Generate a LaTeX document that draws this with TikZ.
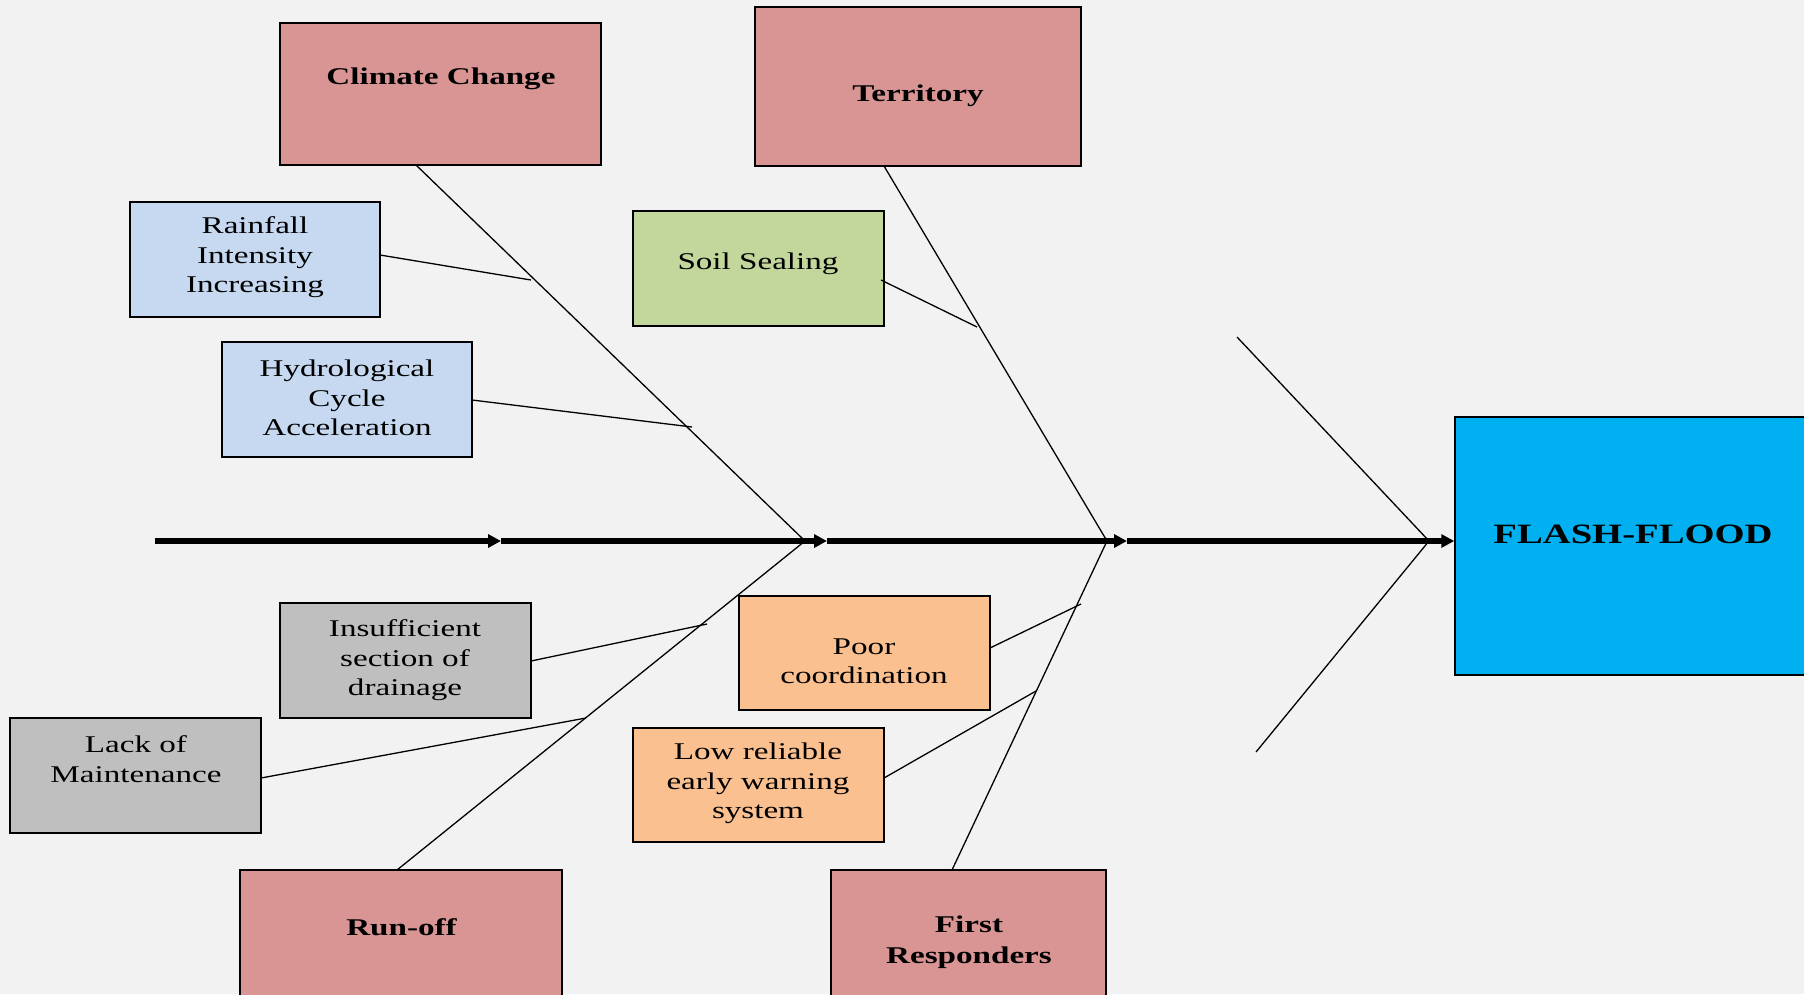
\documentclass[tikz,border=0pt]{standalone}
\usepackage{fontspec}
\setmainfont{Liberation Serif}[FakeStretch=1.38]
\usetikzlibrary{arrows.meta}
\definecolor{bg}{HTML}{F2F2F2}
\definecolor{causered}{HTML}{D99594}
\definecolor{subblue}{HTML}{C6D9F1}
\definecolor{subgreen}{HTML}{C3D69B}
\definecolor{subgrey}{HTML}{BFBFBF}
\definecolor{suborange}{HTML}{FAC090}
\definecolor{effectblue}{HTML}{00B0F0}
\tikzset{
  box/.style={draw=black, line width=1.5pt, inner sep=0pt, rectangle},
  mainbox/.style={box, fill=causered},
  bluebox/.style={box, fill=subblue},
  greenbox/.style={box, fill=subgreen},
  greybox/.style={box, fill=subgrey},
  orangebox/.style={box, fill=suborange},
  lbl/.style={align=center, inner sep=0pt, font=\fontsize{24}{29.5}\selectfont},
  blbl/.style={align=center, inner sep=0pt, font=\fontsize{24}{31}\selectfont\bfseries},
  bone/.style={line width=1.3pt, draw=black},
  spine/.style={line width=5.5pt, draw=black, -{Triangle[length=13pt,width=13pt]}}
}
\begin{document}
\begin{tikzpicture}[x=1pt,y=-1pt]
\useasboundingbox (0,0) rectangle (1804,994);
\fill[bg] (0,0) rectangle (1804,994);
\clip (0,0) rectangle (1804,994);

% boxes
\node[mainbox, minimum width=321pt, minimum height=142pt] (clim) at (440.5,94) {};
\node[mainbox, minimum width=326pt, minimum height=159pt] (terr) at (918,86.5) {};
\node[bluebox, minimum width=250pt, minimum height=115pt] (rain) at (255,259.5) {};
\node[bluebox, minimum width=250pt, minimum height=115pt] (hydro) at (347,399.5) {};
\node[greenbox, minimum width=251pt, minimum height=115pt] (soil) at (758.5,268.5) {};
\node[greybox, minimum width=251pt, minimum height=115pt] (insuf) at (405.5,660.5) {};
\node[greybox, minimum width=251pt, minimum height=115pt] (lack) at (135.5,775.5) {};
\node[orangebox, minimum width=251pt, minimum height=114pt] (poor) at (864.5,653) {};
\node[orangebox, minimum width=251pt, minimum height=114pt] (low) at (758.5,785) {};
\node[mainbox, minimum width=322pt, minimum height=140pt] (runoff) at (401,940) {};
\node[mainbox, minimum width=275pt, minimum height=140pt] (first) at (968.5,940) {};
\node[box, fill=effectblue, minimum width=365pt, minimum height=258pt] (flash) at (1637.5,546) {};

% labels
\node[blbl] (climt) at (441,78.5) {Climate Change};
\node[blbl] (terrt) at (918,95.5) {Territory};
\node[lbl] (raint) at (255,257.5) {Rainfall\\Intensity\\Increasing};
\node[lbl] (hydrot) at (347,398) {Hydrological\\Cycle\\Acceleration};
\node[lbl] (soilt) at (758,263.5) {Soil Sealing};
\node[lbl] (insuft) at (405,660.5) {Insufficient\\section of\\drainage};
\node[lbl] (lackt) at (136,759) {Lack of\\Maintenance};
\node[lbl] (poort) at (864,661) {Poor\\coordination};
\node[lbl] (lowt) at (758,783.5) {Low reliable\\early warning\\system};
\node[blbl] (runofft) at (401.5,927) {Run-off};
\node[blbl] (firstt) at (969,942) {First\\Responders};
\node[align=center, inner sep=0pt, font=\fontsize{28}{34}\selectfont\bfseries] (flasht) at (1633,534) {FLASH-FLOOD};

% coordinates
\coordinate (start) at (155,541);
\coordinate (a1) at (501,541);
\coordinate (j1) at (805,541);
\coordinate (a2) at (827,541);
\coordinate (j2) at (1107,541);
\coordinate (a3) at (1127,541);
\coordinate (j3) at (1429,541);
\coordinate (a4) at (flash.west |- a3);
\coordinate (climb) at (416,165);
\coordinate (terrb) at (884,166);
\coordinate (runofft0) at (397,870);
\coordinate (firstt0) at (952,870);
\coordinate (rtop) at (1237,337);
\coordinate (rbot) at (1256,752);
\coordinate (rainE) at (380,255);
\coordinate (rainX) at (531,280);
\coordinate (hydroE) at (472,400);
\coordinate (hydroX) at (692,427);
\coordinate (soilE) at (881,280);
\coordinate (soilX) at (977,327);
\coordinate (insufE) at (531,661);
\coordinate (insufX) at (707,624);
\coordinate (lackE) at (261,778);
\coordinate (lackX) at (586,718);
\coordinate (poorE) at (990,648);
\coordinate (poorX) at (1081,604);
\coordinate (lowE) at (884,778);
\coordinate (lowX) at (1036,691);

% bones
\draw[bone] (climb) -- (j1);
\draw[bone] (runofft0) -- (j1);
\draw[bone] (terrb) -- (j2);
\draw[bone] (firstt0) -- (j2);
\draw[bone] (rtop) -- (j3) -- (rbot);
\draw[bone] (rainE) -- (rainX);
\draw[bone] (hydroE) -- (hydroX);
\draw[bone] (soilE) -- (soilX);
\draw[bone] (insufE) -- (insufX);
\draw[bone] (lackE) -- (lackX);
\draw[bone] (poorE) -- (poorX);
\draw[bone] (lowE) -- (lowX);

% main spine
\draw[spine] (start) -- (a1);
\draw[spine] (a1) -- (a2);
\draw[spine] (a2) -- (a3);
\draw[spine] (a3) -- (a4);
\end{tikzpicture}
\end{document}
